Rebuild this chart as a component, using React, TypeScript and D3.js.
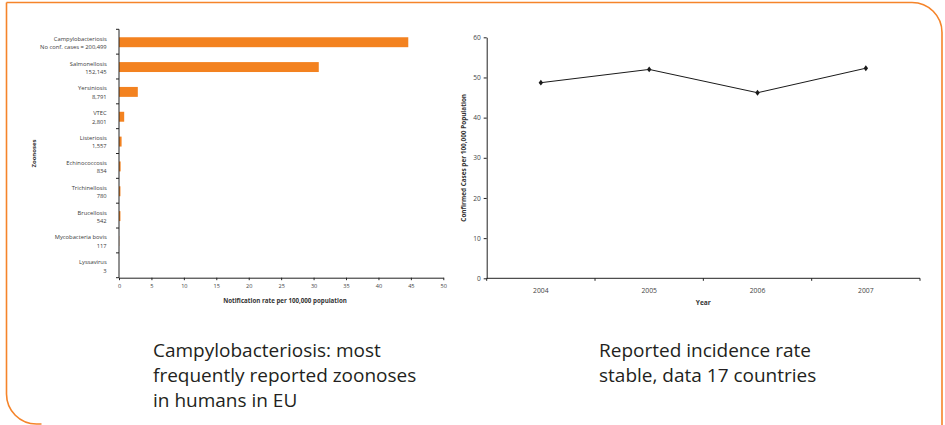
import React, { useEffect, useRef } from "react";
import * as d3 from "d3";

// Zoonoses in humans, EU: notification rate per 100,000 population
const zoonoses = [
  "Campylobacteriosis",
  "Salmonellosis",
  "Yersiniosis",
  "VTEC",
  "Listeriosis",
  "Echinococcosis",
  "Trichinellosis",
  "Brucellosis",
  "Mycobacteria bovis",
  "Lyssavirus",
];
const confirmedCases = [
  "No conf. cases = 200,499",
  "152,145",
  "8,791",
  "2,801",
  "1,557",
  "834",
  "780",
  "542",
  "117",
  "3",
];
const notificationRates = [44.6, 30.8, 2.9, 0.8, 0.4, 0.25, 0.22, 0.22, 0.03, 0];
const rateTicks = [0, 5, 10, 15, 20, 25, 30, 35, 40, 45, 50];

// Campylobacteriosis incidence, 17 countries
const years = ["2004", "2005", "2006", "2007"];
const incidenceRates = [48.7, 52.0, 46.2, 52.3];
const incidenceTicks = [0, 10, 20, 30, 40, 50, 60];

const captionLeft = [
  "Campylobacteriosis: most",
  "frequently reported zoonoses",
  "in humans in EU",
];
const captionRight = ["Reported incidence rate", "stable, data 17 countries"];

const W = 945;
const H = 425;
const ORANGE = "#F5842A";
const FONT = "'Open Sans', 'Noto Sans', sans-serif";

export default function App() {
  const ref = useRef<SVGSVGElement>(null);

  useEffect(() => {
    const svg = d3.select(ref.current);
    svg.selectAll("*").remove();

    // Frame: leaf-shaped outline, rounded top-right and bottom-left
    const r = 30;
    const fx0 = 6.5, fy0 = 2.5, fx1 = 942, fy1 = 424;
    const frame = d3.path();
    frame.moveTo(fx0, fy0);
    frame.lineTo(fx1 - r, fy0);
    frame.arcTo(fx1, fy0, fx1, fy0 + r, r);
    frame.lineTo(fx1, fy1 + 5);
    frame.moveTo(fx0, fy0);
    frame.lineTo(fx0, fy1 - r);
    frame.arcTo(fx0, fy1, fx0 + r, fy1, r);
    frame.lineTo(fx0 + r + 5, fy1);
    svg
      .append("path")
      .attr("d", frame.toString())
      .attr("fill", "none")
      .attr("stroke", ORANGE)
      .attr("stroke-width", 1.6);

    // ---------- Left: horizontal bar chart ----------
    const bx0 = 119, bx1 = 443.3, by0 = 29.3, by1 = 277.7;
    const xRate = d3.scaleLinear().domain([0, 50]).range([bx0, bx1]);
    const yCat = d3.scaleBand<string>().domain(zoonoses).range([by0, by1]).padding(0);
    const left = svg.append("g");

    const barH = yCat.bandwidth() * 0.4;
    left
      .selectAll("rect.bar")
      .data(zoonoses)
      .join("rect")
      .attr("class", "bar")
      .attr("x", xRate(0))
      .attr("y", (d) => (yCat(d) as number) + yCat.bandwidth() / 2 - barH / 2 + 0.5)
      .attr("width", (_, i) => xRate(notificationRates[i]) - xRate(0))
      .attr("height", barH)
      .attr("fill", "#F38220");

    // y axis line + category boundary ticks
    const catBounds = zoonoses.map((d) => yCat(d) as number).concat([by1]);
    left
      .append("line")
      .attr("x1", bx0).attr("x2", bx0)
      .attr("y1", by0).attr("y2", by1)
      .attr("stroke", "#222").attr("stroke-width", 1);
    left
      .selectAll("line.ct")
      .data(catBounds)
      .join("line")
      .attr("class", "ct")
      .attr("x1", bx0 - 3).attr("x2", bx0)
      .attr("y1", (d) => d).attr("y2", (d) => d)
      .attr("stroke", "#222");

    // category labels
    const catLabels = left
      .selectAll("text.cat")
      .data(zoonoses)
      .join("text")
      .attr("class", "cat")
      .attr("text-anchor", "end")
      .attr("font-family", FONT)
      .attr("font-size", 5.8)
      .attr("fill", "#3a3a3a");
    catLabels
      .append("tspan")
      .attr("x", 106.7)
      .attr("y", (d) => (yCat(d) as number) + yCat.bandwidth() / 2 - 1)
      .text((d) => d);
    catLabels
      .append("tspan")
      .attr("x", 106.7)
      .attr("y", (d) => (yCat(d) as number) + yCat.bandwidth() / 2 + 7.4)
      .text((_, i) => confirmedCases[i]);

    // x axis
    const xAxis = d3
      .axisBottom(xRate)
      .tickValues(rateTicks)
      .tickSize(2.5)
      .tickSizeOuter(0)
      .tickPadding(4);
    const gx = left.append("g").attr("transform", `translate(0,${by1})`).call(xAxis);
    gx.select(".domain").attr("stroke", "#222");
    gx.selectAll(".tick line").attr("stroke", "#222");
    gx.selectAll(".tick text")
      .attr("font-family", FONT)
      .attr("font-size", 5.6)
      .attr("fill", "#444");

    left
      .append("text")
      .attr("x", 285)
      .attr("y", 303)
      .attr("text-anchor", "middle")
      .attr("font-family", FONT)
      .attr("font-weight", "bold")
      .attr("font-size", 6.2)
      .attr("fill", "#333")
      .text("Notification rate per 100,000 population");

    left
      .append("text")
      .attr("transform", `translate(36,${(by0 + by1) / 2}) rotate(-90)`)
      .attr("text-anchor", "middle")
      .attr("font-family", FONT)
      .attr("font-weight", "bold")
      .attr("font-size", 6)
      .attr("fill", "#333")
      .text("Zoonoses");

    // ---------- Right: line chart ----------
    const lx0 = 486.7, lx1 = 920, ly0 = 278.3, ly1 = 37.3;
    const xYear = d3.scaleBand<string>().domain(years).range([lx0, lx1]).padding(0);
    const yInc = d3.scaleLinear().domain([0, 60]).range([ly0, ly1]);
    const right = svg.append("g");

    const yAxis = d3
      .axisLeft(yInc)
      .tickValues(incidenceTicks)
      .tickSize(3)
      .tickSizeOuter(0)
      .tickPadding(3);
    const gy = right.append("g").attr("transform", `translate(${lx0},0)`).call(yAxis);
    gy.select(".domain").attr("stroke", "#222");
    gy.selectAll(".tick line").attr("stroke", "#222");
    gy.selectAll(".tick text")
      .attr("font-family", FONT)
      .attr("font-size", 6.6)
      .attr("fill", "#444");

    // x axis: baseline with ticks on year boundaries, labels centred in bands
    right
      .append("line")
      .attr("x1", lx0).attr("x2", lx1)
      .attr("y1", ly0).attr("y2", ly0)
      .attr("stroke", "#222");
    const yearBounds = years.map((d) => xYear(d) as number).concat([lx1]);
    right
      .selectAll("line.yt")
      .data(yearBounds)
      .join("line")
      .attr("class", "yt")
      .attr("x1", (d) => d).attr("x2", (d) => d)
      .attr("y1", ly0).attr("y2", ly0 + 2.5)
      .attr("stroke", "#222");
    right
      .selectAll("text.yr")
      .data(years)
      .join("text")
      .attr("class", "yr")
      .attr("x", (d) => (xYear(d) as number) + xYear.bandwidth() / 2)
      .attr("y", 292.5)
      .attr("text-anchor", "middle")
      .attr("font-family", FONT)
      .attr("font-size", 6.8)
      .attr("fill", "#444")
      .text((d) => d);

    right
      .append("text")
      .attr("x", (lx0 + lx1) / 2)
      .attr("y", 305)
      .attr("text-anchor", "middle")
      .attr("font-family", FONT)
      .attr("font-weight", "bold")
      .attr("font-size", 6.6)
      .attr("fill", "#333")
      .text("Year");

    right
      .append("text")
      .attr("transform", `translate(466,${(ly0 + ly1) / 2}) rotate(-90)`)
      .attr("text-anchor", "middle")
      .attr("font-family", FONT)
      .attr("font-weight", "bold")
      .attr("font-size", 6.4)
      .attr("fill", "#333")
      .text("Confirmed Cases per 100,000 Population");

    const pts = years.map((y, i) => [
      (xYear(y) as number) + xYear.bandwidth() / 2,
      yInc(incidenceRates[i]),
    ] as [number, number]);
    right
      .append("path")
      .attr("d", d3.line()(pts) as string)
      .attr("fill", "none")
      .attr("stroke", "#1a1a1a")
      .attr("stroke-width", 1);
    right
      .selectAll("path.mk")
      .data(pts)
      .join("path")
      .attr("class", "mk")
      .attr("d", d3.symbol(d3.symbolDiamond, 12)() as string)
      .attr("transform", (d) => `translate(${d[0]},${d[1]}) scale(1.2,0.9)`)
      .attr("fill", "#1a1a1a");

    // ---------- Captions ----------
    const cap = (lines: string[], x: number) =>
      svg
        .append("text")
        .attr("font-family", FONT)
        .attr("font-size", 19)
        .attr("fill", "#231F20")
        .selectAll("tspan")
        .data(lines)
        .join("tspan")
        .attr("x", x)
        .attr("y", (_, i) => 357 + i * 25)
        .text((d) => d);
    cap(captionLeft, 153);
    cap(captionRight, 599);
  }, []);

  return (
    <svg
      ref={ref}
      width={W}
      height={H}
      style={{ position: "absolute", left: 0, top: 0, background: "#fff" }}
    />
  );
}
